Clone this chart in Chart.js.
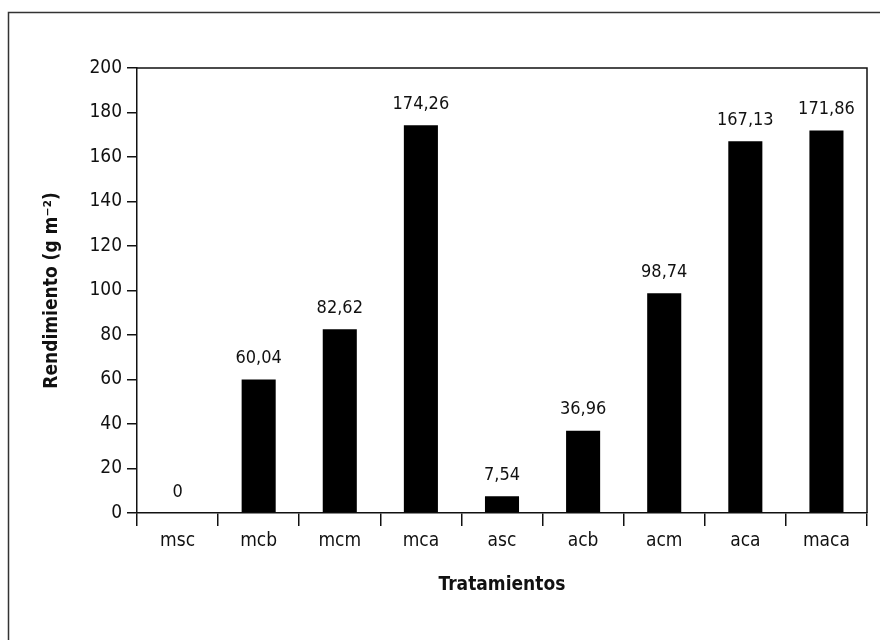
<!DOCTYPE html>
<html>
<head>
<meta charset="utf-8">
<script src="https://cdn.jsdelivr.net/npm/chart.js@4"></script>
<style>
html,body{margin:0;padding:0;background:#fff;}
#wrap{width:880px;height:640px;position:relative;}
</style>
</head>
<body>
<div id="wrap"><canvas id="c" width="880" height="640"></canvas></div>
<script>
const categories = ['msc','mcb','mcm','mca','asc','acb','acm','aca','maca'];
const rendimiento = [0, 60.04, 82.62, 174.26, 7.54, 36.96, 98.74, 167.13, 171.86];
const yTicks = [0,20,40,60,80,100,120,140,160,180,200];

const FONT = '"Liberation Sans Narrow", "DejaVu Sans Condensed", "Roboto Condensed", sans-serif';

const fmt = v => v === 0 ? '0' : v.toFixed(2).replace('.', ',');

const framePlugin = {
  id: 'frame',
  beforeDraw(chart) {
    const ctx = chart.ctx;
    ctx.save();
    ctx.fillStyle = '#fff';
    ctx.fillRect(0, 0, chart.width, chart.height);
    ctx.strokeStyle = '#333';
    ctx.lineWidth = 1.5;
    ctx.strokeRect(8.5, 12.5, 1000, 1000);
    ctx.restore();
  },
  afterDraw(chart) {
    const a = chart.chartArea, ctx = chart.ctx;
    ctx.save();
    ctx.strokeStyle = '#111';
    ctx.lineWidth = 1.5;
    ctx.beginPath();
    ctx.moveTo(a.left, a.top);
    ctx.lineTo(a.right, a.top);
    ctx.lineTo(a.right, a.bottom);
    ctx.stroke();
    ctx.restore();
  }
};

const labelPlugin = {
  id: 'barLabels',
  afterDatasetsDraw(chart) {
    const ctx = chart.ctx;
    const meta = chart.getDatasetMeta(0);
    ctx.save();
    ctx.font = '18px ' + FONT;
    ctx.fillStyle = '#111';
    ctx.textAlign = 'center';
    ctx.textBaseline = 'bottom';
    meta.data.forEach((el, i) => {
      ctx.fillText(fmt(rendimiento[i]), el.x, el.y - 12);
    });
    ctx.restore();
  }
};

new Chart(document.getElementById('c'), {
  type: 'bar',
  data: {
    labels: categories,
    datasets: [{
      data: rendimiento,
      backgroundColor: '#000',
      borderWidth: 0,
      categoryPercentage: 1,
      barPercentage: 0.42
    }]
  },
  options: {
    responsive: false,
    animation: false,
    devicePixelRatio: 1,
    layout: { padding: { left: 0, top: 68, right: 13, bottom: 0 } },
    plugins: { legend: { display: false }, tooltip: { enabled: false } },
    scales: {
      x: {
        grid: { offset: true, drawOnChartArea: false, tickLength: 13, color: '#111', lineWidth: 1.5 },
        border: { display: true, color: '#111', width: 1.5 },
        ticks: { font: { family: FONT, size: 19 }, color: '#111', padding: 4 },
        title: { display: true, text: 'Tratamientos', font: { family: FONT, size: 19, weight: 'bold' }, color: '#111', padding: { top: 0, bottom: 44 } },
        afterFit(s) { s.height = 127; }
      },
      y: {
        min: 0, max: 200,
        afterBuildTicks(s) { s.ticks = yTicks.map(v => ({ value: v })); },
        grid: { drawOnChartArea: false, tickLength: 10, color: '#111', lineWidth: 1.5 },
        border: { display: true, color: '#111', width: 1.5 },
        ticks: { font: { family: FONT, size: 19 }, color: '#111', padding: 5 },
        title: { display: true, text: 'Rendimiento (g m\u207B\u00B2)', font: { family: FONT, size: 19, weight: 'bold' }, color: '#111', padding: { top: 41, bottom: 0 } },
        afterFit(s) { s.width = 137; }
      }
    }
  },
  plugins: [framePlugin, labelPlugin]
});
</script>
</body>
</html>
